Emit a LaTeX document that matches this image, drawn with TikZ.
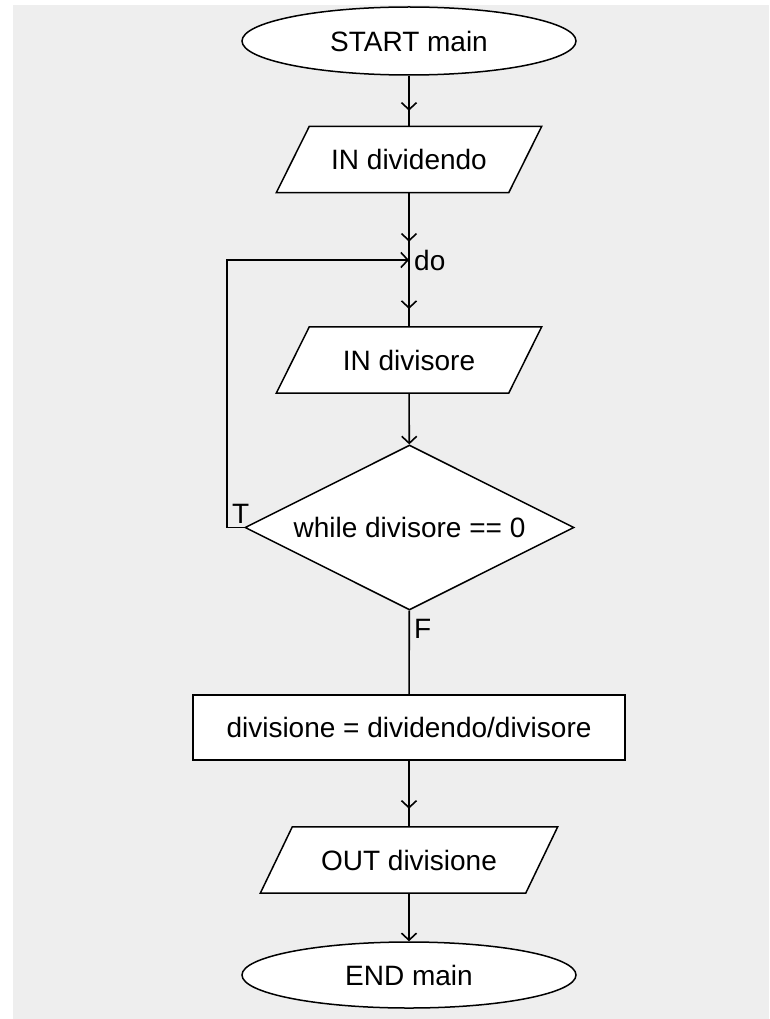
\documentclass[tikz,border=0pt]{standalone}
\usepackage{fontspec}
\setmainfont{Liberation Sans}
\usetikzlibrary{shapes.geometric,arrows.meta,decorations.markings,backgrounds}
\definecolor{panel}{HTML}{EEEEEE}
\tikzset{
  vtip/.tip={Straight Barb[length=7pt,width=15pt]},
  flow/.style={line width=1.6pt, black},
  midtip/.style={postaction={decorate,decoration={markings,
      mark=at position #1 with {\arrow{vtip}}}}},
  outline/.style={draw=black, line width=1.5pt, fill=white},
  terminal/.style={ellipse, outline, minimum width=334pt, minimum height=68pt, inner sep=0pt},
  iobox/.style={rectangle, minimum height=66pt, inner sep=0pt},
  procbox/.style={rectangle, outline, minimum width=432pt, minimum height=65pt, inner sep=0pt},
  condbox/.style={diamond, outline, aspect=2, minimum width=329pt, minimum height=165pt, inner sep=0pt},
  tag/.style={inner sep=0pt},
}
\begin{document}
\begin{tikzpicture}[x=1pt, y=-1pt, font=\fontsize{28pt}{34pt}\selectfont]
  \useasboundingbox (0,0) rectangle (769,1019);

  % flowchart blocks
  \node[terminal] (start) at (409,41) {START main};
  \node[iobox, minimum width=232pt] (ind) at (409,159.5) {IN dividendo};
  \coordinate (jn) at (409,260);
  \coordinate (lp) at (227,260);
  \node[iobox, minimum width=232pt] (ids) at (409,360) {IN divisore};
  \node[condbox] (dia) at (409.5,527.5) {while divisore == 0};
  \node[procbox] (calc) at (409,727.5) {divisione = dividendo/divisore};
  \node[iobox, minimum width=265pt] (outd) at (409,860) {OUT divisione};
  \node[terminal, minimum height=66pt] (endn) at (409,975) {END main};

  % page, panel and the slanted input/output outlines behind the text
  \begin{pgfonlayer}{background}
    \fill[white] (0,0) rectangle (769,1019);
    \fill[panel] (13,5) rectangle (769,1019);
    \draw[outline] ([xshift=16.5pt]ind.north west) -- ([xshift=16.5pt]ind.north east)
      -- ([xshift=-16.5pt]ind.south east) -- ([xshift=-16.5pt]ind.south west) -- cycle;
    \draw[outline] ([xshift=16.5pt]ids.north west) -- ([xshift=16.5pt]ids.north east)
      -- ([xshift=-16.5pt]ids.south east) -- ([xshift=-16.5pt]ids.south west) -- cycle;
    \draw[outline] ([xshift=16pt]outd.north west) -- ([xshift=16pt]outd.north east)
      -- ([xshift=-16pt]outd.south east) -- ([xshift=-16pt]outd.south west) -- cycle;
  \end{pgfonlayer}

  % connectors
  \draw[flow, midtip=35pt] (start) -- (ind);
  \draw[flow, midtip=49pt] (ind) -- (jn);
  \draw[flow, midtip=49pt] (jn) -- (ids);
  \draw[flow, -vtip] (ids) -- (dia);
  \draw[flow] (dia) -- (calc);
  \draw[flow, midtip=48pt] (calc) -- (outd);
  \draw[flow, -vtip] (outd) -- (endn);
  \draw[flow, -vtip] (dia.west) -| (lp) -- (jn);

  % branch labels
  \node[tag, anchor=base west] (dolbl) at (414,270) {do};
  \node[tag, anchor=base west] (tlbl) at (232,523) {T};
  \node[tag, anchor=base west] (flbl) at (414,638) {F};
\end{tikzpicture}
\end{document}
